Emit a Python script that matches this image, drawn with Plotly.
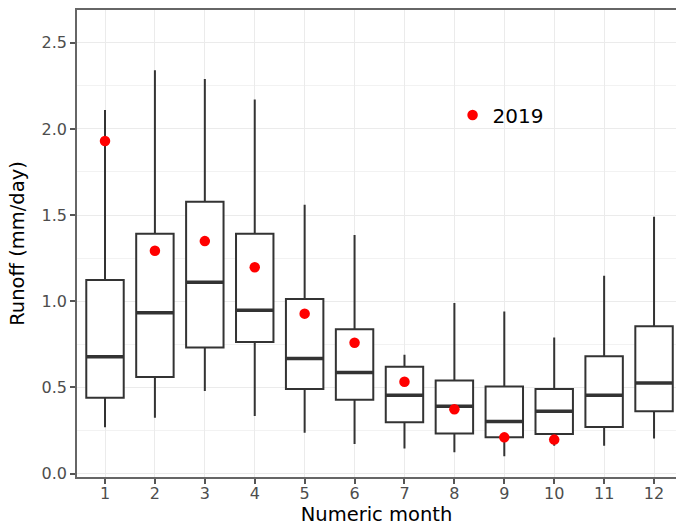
import plotly.graph_objects as go

months = list(range(1, 13))
upper = [2.11, 2.34, 2.29, 2.17, 1.56, 1.385, 0.69, 0.99, 0.94, 0.79, 1.148, 1.49]
q3 = [1.123, 1.392, 1.578, 1.392, 1.013, 0.838, 0.62, 0.54, 0.505, 0.49, 0.68, 0.855]
median = [0.678, 0.933, 1.11, 0.947, 0.668, 0.587, 0.454, 0.39, 0.302, 0.362, 0.454, 0.526]
q1 = [0.44, 0.56, 0.732, 0.763, 0.49, 0.428, 0.298, 0.232, 0.21, 0.23, 0.27, 0.362]
lower = [0.268, 0.324, 0.479, 0.334, 0.237, 0.171, 0.145, 0.124, 0.10, 0.162, 0.162, 0.203]
obs2019 = [1.93, 1.293, 1.349, 1.197, 0.928, 0.759, 0.533, 0.373, 0.21, 0.197, None, None]

BOX_W = 0.75
LINE = "#333333"
FONT = "DejaVu Sans, Liberation Sans, sans-serif"

fig = go.Figure()
fig.add_trace(go.Box(
    x=months, q1=q1, median=median, q3=q3,
    lowerfence=lower, upperfence=upper,
    width=BOX_W, fillcolor="rgba(255,255,255,1)",
    line=dict(color=LINE, width=2), whiskerwidth=0,
    boxpoints=False, showlegend=False, hoverinfo="skip",
))

# thicker median bars, as in ggplot
mx, my = [], []
for m, md in zip(months, median):
    mx += [m - BOX_W / 2, m + BOX_W / 2, None]
    my += [md, md, None]
fig.add_trace(go.Scatter(x=mx, y=my, mode="lines",
                         line=dict(color=LINE, width=3.5),
                         showlegend=False, hoverinfo="skip"))

fig.add_trace(go.Scatter(
    x=months, y=obs2019, mode="markers", name="2019",
    marker=dict(color="#FF0000", size=10.5),
))

axis_font = dict(family=FONT, size=16, color="#4D4D4D")
title_font = dict(family=FONT, size=19.5, color="#000000")

fig.update_layout(
    width=676, height=527,
    margin=dict(l=77, r=0, t=10, b=50),
    paper_bgcolor="white", plot_bgcolor="white",
    font=dict(family=FONT),
    legend=dict(x=0.627, y=0.775, xanchor="left", yanchor="middle",
                bgcolor="rgba(0,0,0,0)",
                font=dict(family=FONT, size=20, color="#000000")),
    xaxis=dict(
        range=[0.439, 12.44], tickmode="array", tickvals=months,
        ticktext=[str(m) for m in months],
        showgrid=True, gridcolor="#EBEBEB", gridwidth=1.2,
        showline=True, linecolor="#666666", linewidth=1.5, mirror=True,
        ticks="outside", ticklen=5, tickcolor="#555555", tickwidth=1.5,
        tickfont=axis_font, zeroline=False, ticklabelstandoff=-4,
        title=dict(text="Numeric month", font=title_font, standoff=4),
    ),
    yaxis=dict(
        range=[-0.02, 2.69], tickmode="array",
        tickvals=[0, 0.5, 1.0, 1.5, 2.0, 2.5],
        ticktext=["0.0", "0.5", "1.0", "1.5", "2.0", "2.5"],
        showgrid=True, gridcolor="#EBEBEB", gridwidth=1.2,
        minor=dict(tickvals=[0.25, 0.75, 1.25, 1.75, 2.25], showgrid=True,
                   gridcolor="#F2F2F2", gridwidth=1),
        showline=True, linecolor="#666666", linewidth=1.5,
        ticks="outside", ticklen=5, tickcolor="#555555", tickwidth=1.5,
        tickfont=axis_font, zeroline=False,
        title=dict(text="Runoff (mm/day)", font=title_font, standoff=12),
    ),
)

fig.write_html("out.html")
